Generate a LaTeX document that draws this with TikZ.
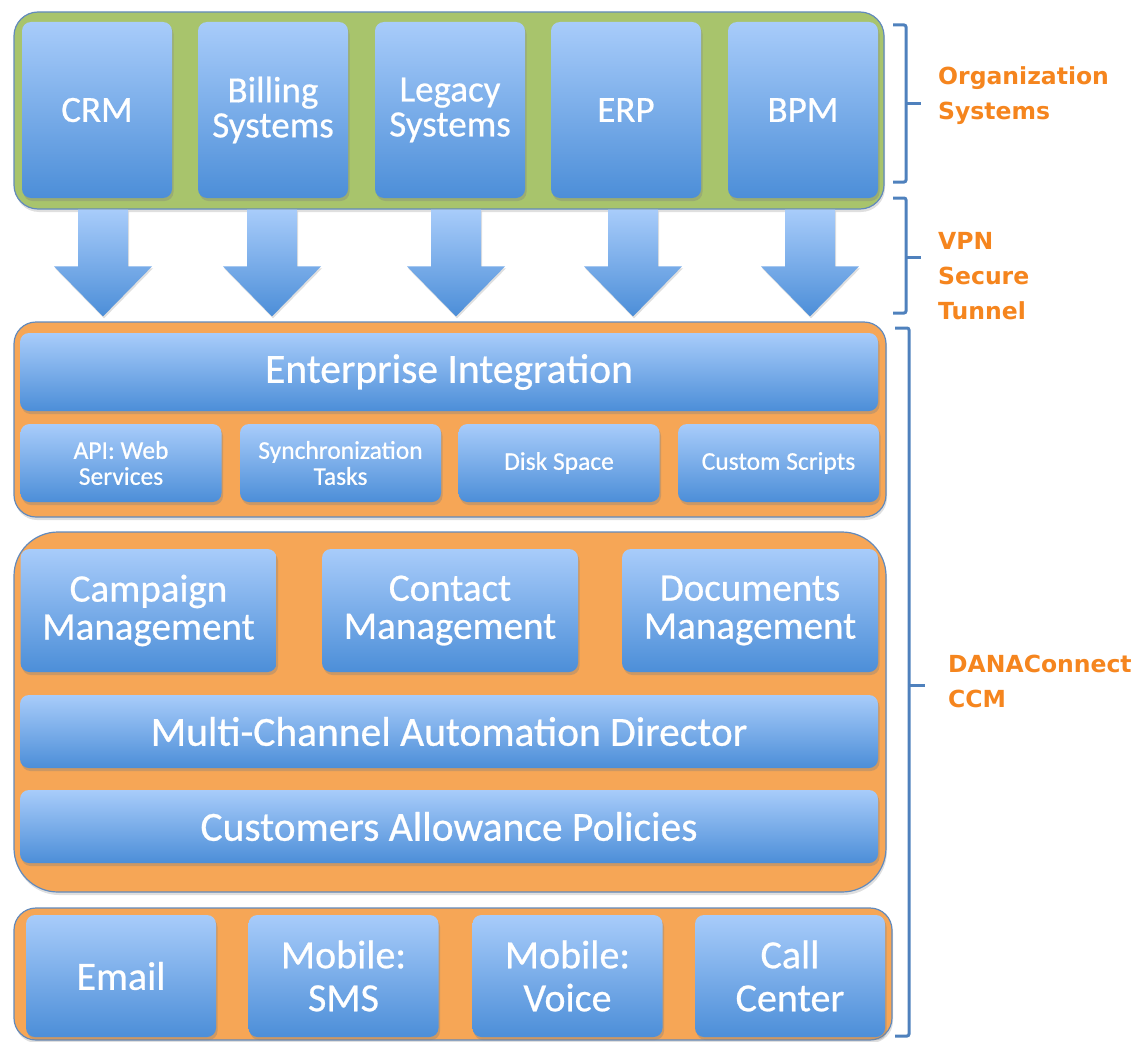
\documentclass[tikz,border=0pt]{standalone}
\usepackage{fontspec}
\usetikzlibrary{shadows,calc}
\newfontfamily\boxfont{Carlito}[FakeBold=0.6]
\newfontfamily\labelfont{DejaVu Sans}

\definecolor{boxtop}{RGB}{168,204,250}
\definecolor{boxbot}{RGB}{76,142,216}
\definecolor{panelgreen}{RGB}{168,196,108}
\definecolor{panelorange}{RGB}{246,166,86}
\definecolor{paneledge}{RGB}{98,138,188}
\definecolor{bracketblue}{RGB}{79,129,189}
\definecolor{labelorange}{RGB}{245,133,30}

\tikzset{
  panel/.style={draw=paneledge, line width=1.2pt, inner sep=0pt,
    drop shadow={shadow xshift=1pt, shadow yshift=-3pt, opacity=0.25}},
  bluebox/.style={rounded corners=9pt, top color=boxtop, bottom color=boxbot,
    draw=none, text=white, align=center, inner sep=0pt,
    drop shadow={shadow xshift=1.5pt, shadow yshift=-3pt, opacity=0.35}},
  topbox/.style={bluebox, minimum width=150pt, minimum height=176pt,
    font=\boxfont\fontsize{37}{35}\selectfont},
  barbox/.style={bluebox, minimum width=858pt,
    font=\boxfont\fontsize{41.5}{41}\selectfont},
  smallbox/.style={bluebox, minimum width=201pt, minimum height=78pt,
    font=\boxfont\fontsize{25.5}{26}\selectfont},
  mgmtbox/.style={bluebox, minimum width=256pt, minimum height=123pt,
    font=\boxfont\fontsize{39}{38}\selectfont},
  channelbox/.style={bluebox, minimum width=190pt, minimum height=122pt,
    font=\boxfont\fontsize{40}{43}\selectfont},
  fatarrow/.style={top color=boxtop, bottom color=boxbot,
    drop shadow={shadow xshift=1pt, shadow yshift=-2pt, opacity=0.25}},
  bracket/.style={draw=bracketblue, line width=3pt, rounded corners=2pt},
  sidelabel/.style={text=labelorange, align=left, anchor=west, inner sep=0pt,
    font=\labelfont\bfseries\fontsize{23.5}{35}\selectfont}
}

% thick block arrow from the bottom of one node to the top of another
\newcommand\blockarrow[3]{%
  \path[fatarrow] let \p1=(#2), \p2=(#3) in
    (#1-25,\y1) -- (#1+25,\y1) -- (#1+25,\y2+55) -- (#1+49,\y2+55)
    -- (#1,\y2+5) -- (#1-49,\y2+55) -- (#1-25,\y2+55) -- cycle;}

\begin{document}
\begin{tikzpicture}[x=1pt,y=1pt]
\useasboundingbox (0,0) rectangle (1148,-1041);

% organization systems
\node[panel, fill=panelgreen, rounded corners=24pt,
  minimum width=870pt, minimum height=197pt] (orgpanel) at (449,-110.5) {};
\node[topbox] (crm)     at (97,-110)  {CRM};
\node[topbox] (billing) at (273,-110) {Billing\\Systems};
\node[topbox] (legacy)  at (450,-110) {Legacy\\Systems};
\node[topbox] (erp)     at (626,-110) {ERP};
\node[topbox] (bpm)     at (803,-110) {BPM};

% enterprise integration layer
\node[panel, fill=panelorange, rounded corners=22pt,
  minimum width=872pt, minimum height=195pt] (intpanel) at (450,-419.5) {};
\node[barbox, minimum height=78pt] (ei) at (449,-372) {Enterprise Integration};
\node[smallbox] (api)    at (121,-463)   {API: Web\\Services};
\node[smallbox] (sync)   at (340.5,-463) {Synchronization\\Tasks};
\node[smallbox] (disk)   at (559,-463)   {Disk Space};
\node[smallbox] (custom) at (778.5,-463) {Custom Scripts};

% VPN tunnel arrows
\blockarrow{103}{orgpanel.south}{intpanel.north}
\blockarrow{272}{orgpanel.south}{intpanel.north}
\blockarrow{456}{orgpanel.south}{intpanel.north}
\blockarrow{633}{orgpanel.south}{intpanel.north}
\blockarrow{810}{orgpanel.south}{intpanel.north}

% management layer
\node[panel, fill=panelorange, rounded corners=44pt,
  minimum width=872pt, minimum height=360pt] (mgmtpanel) at (450,-712) {};
\node[mgmtbox] (campaign)  at (148.5,-610.5) {Campaign\\Management};
\node[mgmtbox] (contact)   at (450,-610.5)   {Contact\\Management};
\node[mgmtbox] (documents) at (750,-610.5)   {Documents\\Management};
\node[barbox, minimum height=73pt] (director)  at (449,-731.5) {Multi-Channel Automation Director};
\node[barbox, minimum height=73pt] (allowance) at (449,-826.5) {Customers Allowance Policies};

% channels
\node[panel, fill=panelorange, rounded corners=22pt,
  minimum width=878pt, minimum height=132pt] (chanpanel) at (453,-974) {};
\node[channelbox] (email) at (121,-976)   {Email};
\node[channelbox] (sms)   at (343.5,-976) {Mobile:\\SMS};
\node[channelbox] (voice) at (567.5,-976) {Mobile:\\Voice};
\node[channelbox] (call)  at (790,-976)   {Call\\Center};

% side brackets
\draw[bracket] (893,-25) -- (906,-25) -- (906,-182) -- (893,-182);
\draw[bracket] (906,-103) -- (921,-103);
\draw[bracket] (893,-198) -- (906,-198) -- (906,-313) -- (893,-313);
\draw[bracket] (906,-257) -- (921,-257);
\draw[bracket] (895,-328) -- (909,-328) -- (909,-1036) -- (895,-1036);
\draw[bracket] (909,-685) -- (925,-685);

% side labels
\node[sidelabel] (orglabel) at (938,-96)  {Organization\\Systems};
\node[sidelabel] (vpnlabel) at (938,-276) {VPN\\Secure\\Tunnel};
\node[sidelabel] (ccmlabel) at (948,-681) {DANAConnect\\CCM};
\end{tikzpicture}
\end{document}
